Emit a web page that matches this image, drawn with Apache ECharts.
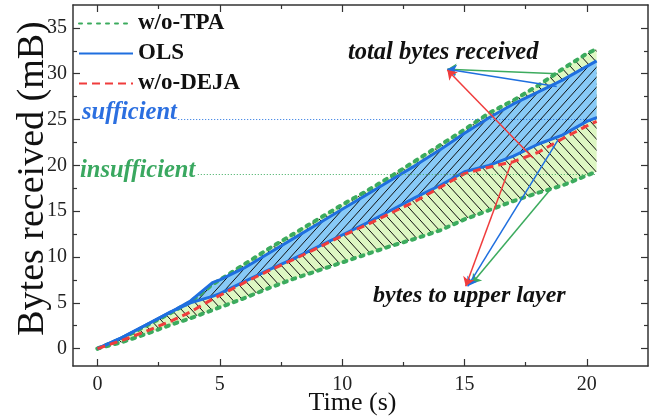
<!DOCTYPE html>
<html>
<head>
<meta charset="utf-8">
<script src="https://cdn.jsdelivr.net/npm/echarts@6/dist/echarts.min.js"></script>
<style>
  html, body { margin: 0; padding: 0; background: #fff; }
  #main { width: 656px; height: 417px; }
</style>
</head>
<body>
<div id="main"></div>
<script>
// time samples (s)
var T = [0, 1, 2, 3, 3.8, 4.7, 5, 6, 7, 8, 9, 10, 11, 12, 13, 14, 15, 16, 17, 18, 19, 20, 20.4];
// total bytes received (mB)
var tpaTotal = [0, 1.1, 2.5, 3.9, 5.1, 7.0, 7.5, 9.2, 10.9, 12.5, 14.1, 15.7, 17.2, 18.8, 20.5, 22.2, 23.9, 25.7, 27.1, 28.7, 30.5, 32.2, 32.7];
var olsTotal = [0, 1.2, 2.6, 4.0, 5.2, 7.2, 7.5, 8.8, 10.4, 12.0, 13.6, 15.2, 16.8, 18.4, 20.0, 21.7, 23.5, 25.2, 26.7, 28.0, 29.3, 30.8, 31.4];
// bytes delivered to upper layer (mB)
var olsUpper = [0, 1.2, 2.6, 4.0, 5.0, 5.7, 6.0, 7.3, 8.6, 9.8, 11.1, 12.4, 13.7, 15.1, 16.5, 17.8, 19.3, 20.0, 21.0, 22.3, 23.3, 24.8, 25.2];
var tpaUpper = [0, 0.7, 1.6, 2.6, 3.3, 4.2, 4.5, 5.5, 6.6, 7.6, 8.5, 9.4, 10.3, 11.2, 12.0, 12.9, 14.1, 15.1, 16.1, 17.0, 17.8, 18.9, 19.3];
// w/o-DEJA: total == to upper layer
var dejaBytes = [0, 0.9, 1.9, 3.0, 4.0, 5.4, 5.8, 7.2, 8.5, 9.7, 11.0, 12.3, 13.5, 14.8, 16.1, 17.6, 19.1, 19.8, 20.4, 21.4, 22.9, 24.3, 24.8];

var xTicks = [0, 5, 10, 15, 20];
var xMinor = [2.5, 7.5, 12.5, 17.5];
var yTicks = [0, 5, 10, 15, 20, 25, 30, 35];
var yMinor = [2.5, 7.5, 12.5, 17.5, 22.5, 27.5, 32.5];

// threshold lines [xStart, xEnd, y]
var sufficientLine = [3.3, 20.4, 25];
var insufficientLine = [4.1, 20.4, 19];

// arrows: [from, to]
var totalArrows = {
  tpa:  [[18.81, 30.0], [14.3, 30.5]],
  ols:  [[18.77, 28.6], [14.3, 30.5]],
  deja: [[17.8, 20.8], [14.3, 30.4]]
};
var upperArrows = {
  tpa:  [[18.49, 17.3], [15.3, 7.1]],
  ols:  [[18.85, 22.9], [15.13, 6.8]],
  deja: [[16.93, 20.4], [15.05, 6.8]]
};

var GREEN = '#3cab5e', BLUE = '#1f6fdf', RED = '#f03c3c';
var FONT = 'Liberation Serif';

function pairs(arr) {
  return T.map(function (t, i) { return [t, arr[i]]; });
}

// hatch tile used as pattern fill
function hatch(bg, forward, w, h) {
  var c = document.createElement('canvas');
  c.width = w; c.height = h;
  var ctx = c.getContext('2d');
  ctx.fillStyle = bg;
  ctx.fillRect(0, 0, w, h);
  ctx.strokeStyle = '#111';
  ctx.lineWidth = 1;
  ctx.beginPath();
  for (var k = -1; k <= 1; k++) {
    if (forward) { ctx.moveTo(k * w, h); ctx.lineTo(k * w + w, 0); }
    else { ctx.moveTo(k * w, 0); ctx.lineTo(k * w + w, h); }
  }
  ctx.stroke();
  return { image: c, repeat: 'repeat' };
}

// filled band between two curves
function band(low, up, fill, z) {
  return {
    type: 'custom', z: z, silent: true, clip: true,
    data: T.map(function (t, i) { return [t, low[i], up[i]]; }),
    encode: { x: 0, y: [1, 2] },
    renderItem: function (params, api) {
      if (params.dataIndexInside !== 0) return;
      var n = params.dataInsideLength, top = [], bot = [];
      for (var j = 0; j < n; j++) {
        top.push(api.coord([api.value(0, j), api.value(2, j)]));
        bot.push(api.coord([api.value(0, j), api.value(1, j)]));
      }
      return { type: 'polygon', shape: { points: top.concat(bot.reverse()) }, style: { fill: fill } };
    }
  };
}

function arrowLine(a, color) {
  return [
    { coord: a[0], symbol: 'none', lineStyle: { color: color, width: 1.5, type: 'solid' } },
    { coord: a[1], symbol: 'arrow', symbolSize: 9 }
  ];
}

var dotted = { color: GREEN, width: 4, type: [3, 6], cap: 'round' };

var series = [
  band(tpaUpper, tpaTotal, hatch('#def7c3', false, 10, 11), 1),
  band(olsUpper, olsTotal, hatch('#88caf7', true, 9, 10), 2),
  { name: 'w/o-TPA', type: 'line', data: pairs(tpaTotal), symbol: 'none', z: 3, lineStyle: dotted, itemStyle: { color: GREEN } },
  { name: 'w/o-TPA', type: 'line', data: pairs(tpaUpper), symbol: 'none', z: 3, lineStyle: dotted, itemStyle: { color: GREEN } },
  { name: 'OLS', type: 'line', data: pairs(olsTotal), symbol: 'none', z: 4, lineStyle: { color: BLUE, width: 3 }, itemStyle: { color: BLUE } },
  { name: 'OLS', type: 'line', data: pairs(olsUpper), symbol: 'none', z: 4, lineStyle: { color: BLUE, width: 3 }, itemStyle: { color: BLUE } },
  { name: 'w/o-DEJA', type: 'line', data: pairs(dejaBytes), symbol: 'none', z: 5, lineStyle: { color: RED, width: 3, type: [8, 5] }, itemStyle: { color: RED } },
  {
    name: 'sufficient', type: 'line', symbol: 'none', z: 6, silent: true,
    data: [[sufficientLine[0], sufficientLine[2]], [sufficientLine[1], sufficientLine[2]]],
    lineStyle: { color: BLUE, width: 1, type: [1, 2] }
  },
  {
    name: 'insufficient', type: 'line', symbol: 'none', z: 6, silent: true,
    data: [[insufficientLine[0], insufficientLine[2]], [insufficientLine[1], insufficientLine[2]]],
    lineStyle: { color: GREEN, width: 1, type: [1, 2] }
  },
  {
    name: 'arrows', type: 'line', data: [], z: 7,
    markLine: {
      silent: true, animation: false, label: { show: false },
      symbol: ['none', 'arrow'], symbolSize: 9,
      data: [
        arrowLine(totalArrows.tpa, GREEN), arrowLine(totalArrows.ols, BLUE), arrowLine(totalArrows.deja, RED),
        arrowLine(upperArrows.tpa, GREEN), arrowLine(upperArrows.ols, BLUE), arrowLine(upperArrows.deja, RED)
      ]
    }
  }
];

var axisLine = { show: true, onZero: false, lineStyle: { color: '#333', width: 1.5 } };
function xAx(pos, vals, len, labels) {
  return {
    type: 'value', min: -1, max: 22.5, position: pos,
    axisLine: labels === null ? { show: false, onZero: false } : axisLine,
    splitLine: { show: false },
    axisTick: { inside: true, length: len, customValues: vals, lineStyle: { color: '#333', width: 1.2 } },
    axisLabel: labels ? { customValues: vals, fontFamily: FONT, fontSize: 20, color: '#222', margin: 9 } : { show: false }
  };
}
function yAx(pos, vals, len, labels) {
  return {
    type: 'value', min: -1.9, max: 37.5, position: pos,
    axisLine: labels === null ? { show: false, onZero: false } : axisLine,
    splitLine: { show: false },
    axisTick: { inside: true, length: len, customValues: vals, lineStyle: { color: '#333', width: 1.2 } },
    axisLabel: labels ? { customValues: vals, fontFamily: FONT, fontSize: 20, color: '#222', margin: 6 } : { show: false }
  };
}

var xMain = xAx('bottom', xTicks, 7, true);
xMain.name = 'Time (s)';
xMain.nameLocation = 'middle';
xMain.nameGap = 24;
xMain.nameMoveOverlap = false;
xMain.nameTextStyle = { fontFamily: FONT, fontSize: 26, color: '#111', padding: [0, 16, 0, 0] };
var yMain = yAx('left', yTicks, 7, true);
yMain.name = 'Bytes received (mB)';
yMain.nameLocation = 'middle';
yMain.nameGap = 21;
yMain.nameMoveOverlap = false;
yMain.nameTextStyle = { fontFamily: FONT, fontSize: 38, color: '#111', padding: [0, 0, 0, 14] };

var chart = echarts.init(document.getElementById('main'), null, { renderer: 'canvas' });
chart.setOption({
  animation: false,
  backgroundColor: '#fff',
  grid: { left: 73, right: 8, top: 5, bottom: 51, outerBoundsMode: 'none', containLabel: false },
  xAxis: [xMain, xAx('bottom', xMinor, 4, null), xAx('top', xTicks, 7, false), xAx('top', xMinor, 4, null)],
  yAxis: [yMain, yAx('left', yMinor, 4, null), yAx('right', yTicks, 7, false), yAx('right', yMinor, 4, null)],
  legend: {
    data: ['w/o-TPA', 'OLS', 'w/o-DEJA'],
    orient: 'vertical', left: 78, top: 12, padding: 0,
    itemWidth: 54, itemHeight: 14, itemGap: 7,
    itemStyle: { opacity: 0, borderWidth: 0 },
    textStyle: { fontFamily: FONT, fontSize: 23, fontWeight: 'bold', color: '#111', lineHeight: 22 }
  },
  graphic: [
    { type: 'text', x: 82, y: 113, z: 100, style: { text: 'sufficient', fill: '#2b6fe0', font: 'italic bold 24.5px "Liberation Serif"', verticalAlign: 'middle' } },
    { type: 'text', x: 80, y: 171, z: 100, style: { text: 'insufficient', fill: '#3aa860', font: 'italic bold 24.5px "Liberation Serif"', verticalAlign: 'middle' } },
    { type: 'text', x: 348, y: 53, z: 100, style: { text: 'total bytes received', fill: '#111', font: 'italic bold 24.5px "Liberation Serif"', verticalAlign: 'middle' } },
    { type: 'text', x: 373, y: 296, z: 100, style: { text: 'bytes to upper layer', fill: '#111', font: 'italic bold 24px "Liberation Serif"', verticalAlign: 'middle' } }
  ],
  series: series
});
</script>
</body>
</html>
